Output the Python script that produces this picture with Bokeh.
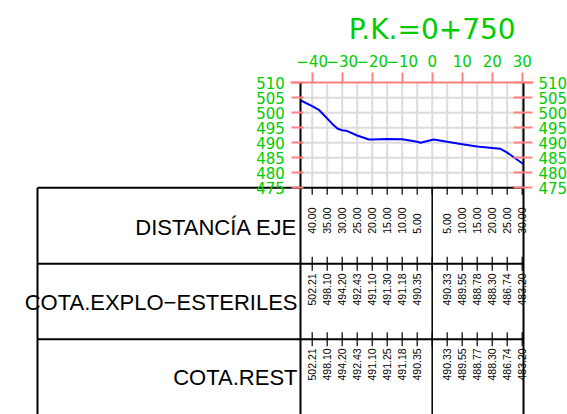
import numpy as np
from bokeh.plotting import figure
from bokeh.models import Range1d, LinearAxis, FixedTicker
from bokeh.core.properties import value
from bokeh.embed import file_html
from bokeh.resources import INLINE

# ---------------- data ----------------
title_text = "P.K.=0+750"
offsets = [-40, -35, -30, -25, -20, -15, -10, -5, 5, 10, 15, 20, 25, 30]
dist_labels = ["40.00", "35.00", "30.00", "25.00", "20.00", "15.00", "10.00", "5.00",
               "5.00", "10.00", "15.00", "20.00", "25.00", "30.00"]
cota_explo = [502.21, 498.10, 494.20, 492.43, 491.10, 491.30, 491.18, 490.35,
              490.33, 489.55, 488.78, 488.30, 486.74, 483.20]
cota_rest = [502.21, 498.10, 494.20, 492.43, 491.10, 491.25, 491.18, 490.35,
             490.33, 489.55, 488.77, 488.30, 486.74, 483.20]
terrain_x = [-43.8, -40, -37.8, -35, -33.3, -31.5, -30, -28.3, -25, -21.1, -20, -15, -10,
             -5, -3.9, 0.5, 5, 10, 15, 20, 22.8, 25, 30, 30.4]
terrain_z = [504.1, 502.21, 501.0, 498.1, 496.3, 494.7, 494.2, 493.9, 492.43, 491.1, 491.1,
             491.3, 491.18, 490.35, 490.0, 491.1, 490.33, 489.55, 488.78, 488.3, 488.0,
             486.74, 483.2, 483.0]
elev_ticks = [475, 480, 485, 490, 495, 500, 505, 510]
dist_ticks = [-40, -30, -20, -10, 0, 10, 20, 30]
dist_tick_labels = ["\u221240", "\u221230", "\u221220", "\u221210", "0", "10", "20", "30"]
row_names = ["DISTANC\u00cdA EJE", "COTA.EXPLO\u2212ESTERILES", "COTA.REST"]

# ---------------- geometry / style ----------------
W, H = 567, 414
PX = 3.0                      # pixels per unit (1:1 drawing)
X0 = 431.7                    # canvas x of offset 0
Y510 = 82.3                   # canvas y of elevation 510
XMIN, XMAX = -X0 / PX, (W - X0) / PX
YMIN, YMAX = 510 - (H - Y510) / PX, 510 + Y510 / PX
X_LEFT, X_RIGHT = -43.8, 30.4
Z_BOT, Z_TOP = 475, 510
TABLE_LEFT = (37 - X0) / PX
ROW_LINES = [475, 449.67, 424.53]
RED = "#ff8080"
GREEN = "#00cc00"
GRID = "#dcdcdc"

p = figure(width=W, height=H, x_range=Range1d(XMIN, XMAX), y_range=Range1d(YMIN, YMAX),
           x_axis_type=None, y_axis_type=None, toolbar_location=None,
           output_backend="svg", min_border=0, outline_line_color=None)
p.xgrid.visible = False
p.ygrid.visible = False

# grid
gx = np.arange(-40, 31, 5)
p.segment(x0=gx, x1=gx, y0=[Z_BOT] * len(gx), y1=[Z_TOP] * len(gx), line_color=GRID, line_width=2)
gy = np.arange(480, 510, 5)
p.segment(x0=[X_LEFT] * len(gy), x1=[X_RIGHT] * len(gy), y0=gy, y1=gy, line_color=GRID, line_width=2)

# terrain profile
p.line(terrain_x, terrain_z, line_color="#0000ff", line_width=2)

# table lines
p.segment(x0=[TABLE_LEFT] * 3, x1=[X_RIGHT] * 3, y0=ROW_LINES, y1=ROW_LINES,
          line_color="black", line_width=2)
p.segment(x0=[TABLE_LEFT], x1=[TABLE_LEFT], y0=[Z_BOT], y1=[YMIN], line_color="black", line_width=2)
p.segment(x0=[0], x1=[0], y0=[Z_BOT], y1=[YMIN], line_color="black", line_width=1.5)

# table tick marks
cols = np.arange(-40, 31, 5)
tk = 7 / PX
tx0, ty0, ty1 = [], [], []
for i, yl in enumerate(ROW_LINES):
    for c in cols:
        tx0.append(c)
        ty0.append(yl - tk)
        ty1.append(yl if i == 0 else yl + tk)
p.segment(x0=tx0, x1=tx0, y0=ty0, y1=ty1, line_color="black", line_width=1.2)

# row titles
label_y = [461.8, 436.8, 411.8]
p.text(x=[-44.9] * 3, y=label_y, text=row_names, text_align="right", text_baseline="alphabetic",
       text_font=value("Liberation Sans"), text_font_size="22px", text_color="black")

# column values (vertical)
col_y = [459.67, 435.77, 410.77]
rows = [dist_labels, [f"{v:.2f}" for v in cota_explo], [f"{v:.2f}" for v in cota_rest]]
for yv, labs in zip(col_y, rows):
    p.text(x=offsets, y=[yv] * len(offsets), text=labs, angle=np.pi / 2,
           text_align="left", text_baseline="middle",
           text_font=value("Liberation Sans"), text_font_size="10.5px", text_color="black")

# title
p.text(x=[0], y=[527.9], text=[title_text], text_align="center", text_baseline="alphabetic",
       text_font=value("DejaVu Sans"), text_font_size="28px", text_color=GREEN)

# axes
common = dict(major_tick_line_color=RED, major_tick_line_width=2, minor_tick_line_color=None,
              major_label_text_color=GREEN, major_label_text_font="DejaVu Sans",
              major_label_text_font_size="15px")
left = LinearAxis(fixed_location=X_LEFT, ticker=FixedTicker(ticks=elev_ticks), bounds=(YMIN, Z_TOP),
                  axis_line_color="black", axis_line_width=2, major_tick_out=9, major_tick_in=3,
                  major_label_standoff=7, **common)
p.add_layout(left, "left")
right = LinearAxis(fixed_location=X_RIGHT, ticker=FixedTicker(ticks=elev_ticks), bounds=(YMIN, Z_TOP),
                   axis_line_color="black", axis_line_width=2, major_tick_out=9, major_tick_in=10,
                   major_label_standoff=6, **common)
p.add_layout(right, "right")
top = LinearAxis(fixed_location=Z_TOP, ticker=FixedTicker(ticks=dist_ticks),
                 bounds=(X_LEFT - 3.5, X_RIGHT + 3.4),
                 axis_line_color=RED, axis_line_width=2, major_tick_out=10, major_tick_in=0,
                 major_label_standoff=6,
                 major_label_overrides=dict(zip(dist_ticks, dist_tick_labels)), **common)
p.add_layout(top, "above")

open("out.html", "w").write(file_html(p, INLINE))
